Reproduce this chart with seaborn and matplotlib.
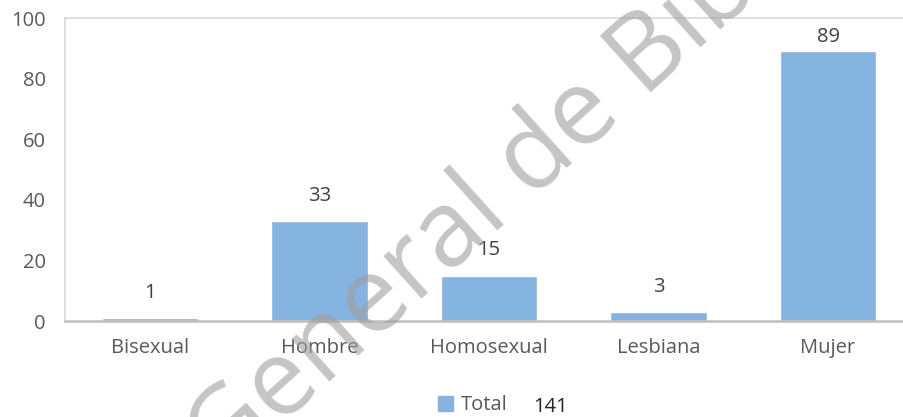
import matplotlib
matplotlib.use('Agg')
import matplotlib.pyplot as plt
from matplotlib.patches import Patch
import seaborn as sns

# datos
categorias = ['Bisexual', 'Hombre', 'Homosexual', 'Lesbiana', 'Mujer']
totales = [1, 33, 15, 3, 89]
total_general = 141
y_ticks = [0, 20, 40, 60, 80, 100]

azul = '#86B4E0'
gris_texto = '#595959'

sns.set_style('white')
plt.rcParams['font.family'] = ['Open Sans', 'DejaVu Sans']

fig = plt.figure(figsize=(9.04, 4.17), dpi=100)
ax = fig.add_axes([0.0722, 0.2302, 0.9375, 0.7266])

sns.barplot(x=categorias, y=totales, color=azul, saturation=1, width=0.57, ax=ax)

ax.set_ylim(0, 100)
ax.set_yticks(y_ticks)
ax.set_xlabel('')
ax.set_ylabel('')
ax.tick_params(axis='both', length=0, labelsize=14.5, labelcolor=gris_texto)
ax.tick_params(axis='y', pad=14)
ax.tick_params(axis='x', pad=12)

for lado in ['left', 'top']:
    ax.spines[lado].set_color('#D9D9D9')
    ax.spines[lado].set_linewidth(1.2)
ax.spines['bottom'].set_color('#BFBFBF')
ax.spines['bottom'].set_linewidth(1.8)
ax.spines['right'].set_visible(False)

# etiquetas de valores
separaciones = [11, 11, 11, 11, 3]
for barra, valor, sep in zip(ax.patches, totales, separaciones):
    ax.annotate(str(valor), (barra.get_x() + barra.get_width() / 2, barra.get_height()),
                xytext=(0, sep), textcoords='offset points', ha='center', va='bottom',
                fontsize=14.5, color='#404040')

# leyenda
ax.legend(handles=[Patch(color=azul)], labels=['Total'], loc='center',
          bbox_to_anchor=(0.523, 0.028), bbox_transform=fig.transFigure,
          frameon=False, handlelength=0.75, handleheight=0.75, handletextpad=0.35,
          fontsize=14.5, labelcolor=gris_texto)
fig.text(0.609, 0.024, str(total_general), fontsize=14.5, color='#262626',
         ha='center', va='center')

# marca de agua (semitransparente, deja ver el texto de abajo)
fig.text(222 / 904, (417 - 478) / 417, 'General de Bibliotecas', rotation=42,
         rotation_mode='anchor', ha='left', va='baseline', fontsize=76,
         color='#9E9E9E', alpha=0.6, zorder=10)

fig.savefig('out.png', dpi=100)
